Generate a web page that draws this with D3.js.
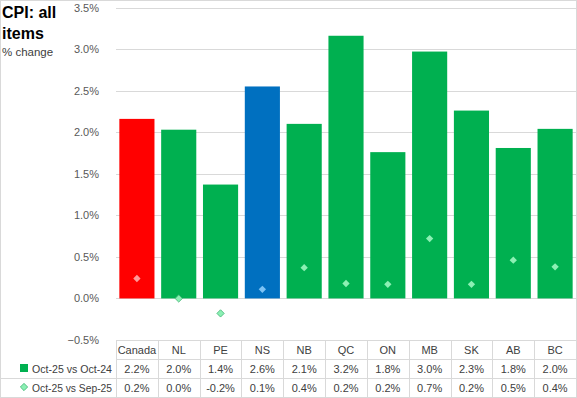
<!DOCTYPE html>
<html>
<head>
  <meta charset="utf-8">
  <script src="https://cdn.jsdelivr.net/npm/d3@7"></script>
  <style>
    body { margin: 0; background: #fff; }
    svg { display: block; font-family: "Liberation Sans", Arial, sans-serif; }
  </style>
</head>
<body>
<script>
  // data
  const regions = ["Canada", "NL", "PE", "NS", "NB", "QC", "ON", "MB", "SK", "AB", "BC"];
  const yearly = [2.16, 2.03, 1.37, 2.55, 2.10, 3.16, 1.76, 2.97, 2.26, 1.81, 2.04];
  const monthly = [0.24, 0.00, -0.18, 0.11, 0.37, 0.18, 0.17, 0.72, 0.17, 0.46, 0.38];
  const yearlyLabels = ["2.2%", "2.0%", "1.4%", "2.6%", "2.1%", "3.2%", "1.8%", "3.0%", "2.3%", "1.8%", "2.0%"];
  const monthlyLabels = ["0.2%", "0.0%", "-0.2%", "0.1%", "0.4%", "0.2%", "0.2%", "0.7%", "0.2%", "0.5%", "0.4%"];
  const yTicks = [-0.5, 0, 0.5, 1, 1.5, 2, 2.5, 3, 3.5];
  const seriesNames = ["Oct-25 vs Oct-24", "Oct-25 vs Sep-25"];

  const W = 577, H = 398;
  const left = 116, right = 576;

  const barColor = function (r) {
    if (r === "Canada") return "#ff0000";
    if (r === "NS") return "#0070c0";
    return "#00b050";
  };
  const dotColor = function (r) {
    if (r === "Canada") return "#ff9a9a";
    if (r === "NS") return "#7cc3f5";
    return "#8cf0b4";
  };

  const svg = d3.select("body").append("svg")
    .attr("width", W).attr("height", H);

  // outer border
  svg.append("rect")
    .attr("x", 0.5).attr("y", 0.5)
    .attr("width", W - 1).attr("height", H - 1)
    .attr("fill", "none").attr("stroke", "#d9d9d9");

  const x = d3.scaleBand().domain(regions).range([left, right]).paddingInner(0.16).paddingOuter(0.08);
  const col = d3.scaleBand().domain(regions).range([left, right]);
  const y = d3.scaleLinear().domain([-0.5, 3.5]).range([340, 7.5]);

  // gridlines
  svg.append("g").selectAll("line")
    .data(yTicks)
    .enter().append("line")
    .attr("x1", left).attr("x2", right)
    .attr("y1", d => Math.round(y(d)) + 0.5).attr("y2", d => Math.round(y(d)) + 0.5)
    .attr("stroke", "#d9d9d9");

  // tick labels
  svg.append("g").selectAll("text")
    .data(yTicks)
    .enter().append("text")
    .attr("x", 99).attr("y", d => y(d) + 4)
    .attr("text-anchor", "end")
    .attr("font-size", 11).attr("fill", "#595959")
    .text(d => d3.format(".1f")(d) + "%");

  // bars
  svg.append("g").selectAll("rect")
    .data(regions)
    .enter().append("rect")
    .attr("x", d => x(d))
    .attr("width", x.bandwidth())
    .attr("y", (d, i) => y(yearly[i]))
    .attr("height", (d, i) => y(0) - y(yearly[i]))
    .attr("fill", d => barColor(d));

  // diamonds
  const sym = d3.symbol().type(d3.symbolDiamond2).size(34);
  svg.append("g").selectAll("path")
    .data(regions)
    .enter().append("path")
    .attr("d", sym)
    .attr("transform", (d, i) => "translate(" + (x(d) + x.bandwidth() / 2) + "," + y(monthly[i]) + ")")
    .attr("fill", d => dotColor(d))
    .attr("stroke", (d, i) => monthly[i] <= 0 ? "#3cb371" : "none")
    .attr("stroke-width", 0.8);

  // data table
  const rows = [340, 359, 378, 397];
  const t = svg.append("g");
  t.append("line").attr("x1", left).attr("x2", right).attr("y1", rows[1] + 0.5).attr("y2", rows[1] + 0.5).attr("stroke", "#d9d9d9");
  t.append("line").attr("x1", 0).attr("x2", right).attr("y1", rows[2] + 0.5).attr("y2", rows[2] + 0.5).attr("stroke", "#d9d9d9");
  t.selectAll("line.v")
    .data(regions.concat(["end"]))
    .enter().append("line")
    .attr("class", "v")
    .attr("x1", d => d === "end" ? right + 0.5 : Math.round(col(d)) + 0.5)
    .attr("x2", d => d === "end" ? right + 0.5 : Math.round(col(d)) + 0.5)
    .attr("y1", rows[0]).attr("y2", rows[3])
    .attr("stroke", "#d9d9d9");

  const cell = function (labels, yy) {
    t.append("g").selectAll("text")
      .data(regions)
      .enter().append("text")
      .attr("x", d => col(d) + col.bandwidth() / 2)
      .attr("y", yy)
      .attr("text-anchor", "middle")
      .attr("font-size", 11).attr("fill", "#404040")
      .text((d, i) => labels[i]);
  };
  cell(regions, 354);
  cell(yearlyLabels, 373);
  cell(monthlyLabels, 392);

  // row legend
  t.append("rect").attr("x", 20).attr("y", 364).attr("width", 8).attr("height", 8).attr("fill", "#00b050");
  t.append("path").attr("d", sym)
    .attr("transform", "translate(24,387)")
    .attr("fill", "#8cf0b4").attr("stroke", "#3cb371").attr("stroke-width", 0.8);
  t.selectAll("text.leg")
    .data(seriesNames)
    .enter().append("text")
    .attr("class", "leg")
    .attr("x", 32).attr("y", (d, i) => 373 + i * 19)
    .attr("font-size", 11).attr("fill", "#404040")
    .attr("textLength", 80).attr("lengthAdjust", "spacingAndGlyphs")
    .text(d => d);

  // title
  svg.append("text").attr("x", 2).attr("y", 18)
    .attr("font-size", 16).attr("font-weight", "bold").attr("fill", "#000")
    .text("CPI: all");
  svg.append("text").attr("x", 2).attr("y", 39)
    .attr("font-size", 16).attr("font-weight", "bold").attr("fill", "#000")
    .text("items");
  svg.append("text").attr("x", 2).attr("y", 56)
    .attr("font-size", 11.5).attr("fill", "#404040")
    .text("% change");
</script>
</body>
</html>
